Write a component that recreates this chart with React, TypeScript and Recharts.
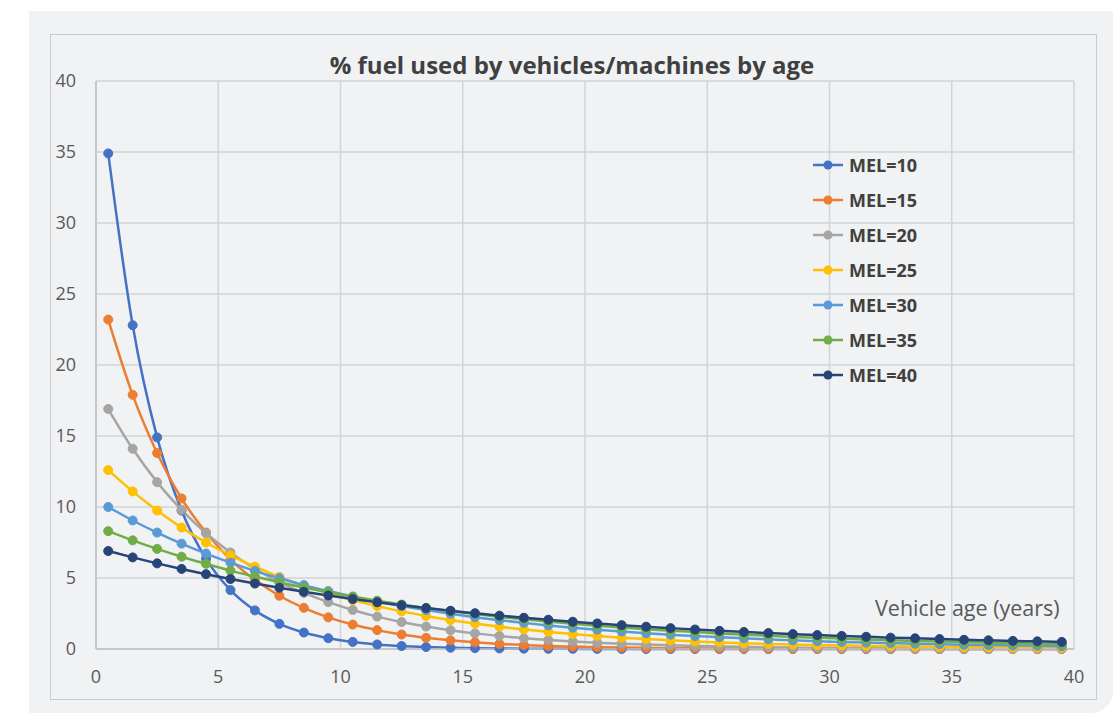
import React from 'react';
import { LineChart, Line, XAxis, YAxis, CartesianGrid } from 'recharts';

const ages = [0.5, 1.5, 2.5, 3.5, 4.5, 5.5, 6.5, 7.5, 8.5, 9.5, 10.5, 11.5, 12.5, 13.5, 14.5, 15.5, 16.5, 17.5, 18.5, 19.5, 20.5, 21.5, 22.5, 23.5, 24.5, 25.5, 26.5, 27.5, 28.5, 29.5, 30.5, 31.5, 32.5, 33.5, 34.5, 35.5, 36.5, 37.5, 38.5, 39.5];

const mel10 = [34.9, 22.8, 14.9, 9.75, 6.35, 4.15, 2.72, 1.77, 1.16, 0.76, 0.5, 0.32, 0.21, 0.14, 0.09, 0.06, 0.04, 0.025, 0.016, 0.01, 0.007, 0.005, 0.003, 0.002, 0.001, 0, 0, 0, 0, 0, 0, 0, 0, 0, 0, 0, 0, 0, 0, 0];
const mel15 = [23.2, 17.9, 13.8, 10.6, 8.2, 6.3, 4.87, 3.75, 2.9, 2.23, 1.72, 1.33, 1.02, 0.79, 0.61, 0.47, 0.36, 0.28, 0.21, 0.17, 0.13, 0.1, 0.08, 0.06, 0.05, 0.03, 0.03, 0.02, 0.02, 0.01, 0.01, 0.01, 0.01, 0, 0, 0, 0, 0, 0, 0];
const mel20 = [16.9, 14.1, 11.75, 9.8, 8.15, 6.8, 5.65, 4.7, 3.95, 3.3, 2.75, 2.28, 1.9, 1.58, 1.32, 1.1, 0.92, 0.76, 0.64, 0.53, 0.44, 0.37, 0.31, 0.26, 0.21, 0.18, 0.15, 0.12, 0.1, 0.09, 0.07, 0.06, 0.05, 0.04, 0.035, 0.03, 0.025, 0.02, 0.017, 0.014];
const mel25 = [12.6, 11.1, 9.75, 8.55, 7.5, 6.6, 5.8, 5.08, 4.46, 3.92, 3.44, 3.02, 2.65, 2.33, 2.04, 1.79, 1.57, 1.38, 1.21, 1.05, 0.92, 0.8, 0.7, 0.61, 0.53, 0.46, 0.4, 0.36, 0.32, 0.28, 0.25, 0.22, 0.2, 0.17, 0.15, 0.13, 0.12, 0.1, 0.09, 0.08];
const mel30 = [10.0, 9.05, 8.2, 7.42, 6.72, 6.08, 5.5, 4.98, 4.5, 4.08, 3.69, 3.34, 3.02, 2.74, 2.48, 2.24, 2.03, 1.84, 1.66, 1.5, 1.36, 1.23, 1.11, 1.01, 0.91, 0.83, 0.75, 0.68, 0.61, 0.55, 0.5, 0.45, 0.41, 0.37, 0.34, 0.3, 0.28, 0.25, 0.23, 0.2];
const mel35 = [8.3, 7.65, 7.05, 6.5, 6.0, 5.52, 5.1, 4.7, 4.33, 4.0, 3.69, 3.4, 3.13, 2.89, 2.66, 2.46, 2.27, 2.09, 1.93, 1.78, 1.64, 1.51, 1.39, 1.29, 1.19, 1.09, 1.01, 0.93, 0.86, 0.79, 0.73, 0.67, 0.62, 0.57, 0.53, 0.49, 0.45, 0.41, 0.38, 0.35];
const mel40 = [6.9, 6.45, 6.03, 5.64, 5.27, 4.93, 4.61, 4.31, 4.03, 3.77, 3.52, 3.29, 3.08, 2.88, 2.69, 2.52, 2.35, 2.2, 2.06, 1.92, 1.8, 1.68, 1.57, 1.47, 1.37, 1.28, 1.2, 1.12, 1.05, 0.98, 0.92, 0.86, 0.8, 0.75, 0.7, 0.65, 0.61, 0.57, 0.54, 0.5];

const seriesNames = ['MEL=10', 'MEL=15', 'MEL=20', 'MEL=25', 'MEL=30', 'MEL=35', 'MEL=40'];
const seriesValues = [mel10, mel15, mel20, mel25, mel30, mel35, mel40];
const seriesColors = ['#4472C4', '#ED7D31', '#A5A5A5', '#FFC000', '#5B9BD5', '#70AD47', '#264478'];

const xTicks = [0, 5, 10, 15, 20, 25, 30, 35, 40];
const yTicks = [0, 5, 10, 15, 20, 25, 30, 35, 40];

const titleText = '% fuel used by vehicles/machines by age';
const xAxisTitle = 'Vehicle age (years)';

const data = ages.map((age, i) => {
  const row: Record<string, number> = { age };
  seriesNames.forEach((name, s) => {
    row[name] = seriesValues[s][i];
  });
  return row;
});

const FONT = 'Open Sans, Liberation Sans, sans-serif';

function LegendBox() {
  return (
    <div style={{ position: 'absolute', left: 811, top: 147, fontFamily: FONT }}>
      {seriesNames.map((name, s) => (
        <div key={name} style={{ display: 'flex', alignItems: 'center', height: 35 }}>
          <svg width={34} height={12} style={{ marginRight: 4 }}>
            <line x1={2} y1={6} x2={32} y2={6} stroke={seriesColors[s]} strokeWidth={2.5} />
            <circle cx={17} cy={6} r={4.5} fill={seriesColors[s]} />
          </svg>
          <span style={{ fontWeight: 700, fontSize: 18, color: '#404040', lineHeight: '20px' }}>{name}</span>
        </div>
      ))}
    </div>
  );
}

export default function App() {
  return (
    <div style={{ position: 'absolute', left: 0, top: 0, width: 1113, height: 713, background: '#ffffff', overflow: 'hidden' }}>
      <div
        style={{
          position: 'absolute',
          left: 29,
          top: 11,
          width: 1084,
          height: 702,
          background: '#f0f2f4',
          borderBottomRightRadius: 22,
        }}
      />
      <div
        style={{
          position: 'absolute',
          left: 50,
          top: 34,
          width: 1047,
          height: 666,
          border: '1px solid #c9cbcd',
          boxSizing: 'border-box',
        }}
      />
      <div
        style={{
          position: 'absolute',
          left: 96,
          width: 978,
          top: 49,
          textAlign: 'center',
          fontFamily: FONT,
          fontWeight: 700,
          fontSize: 24,
          color: '#404040',
          lineHeight: '32px',
          paddingRight: 26,
          boxSizing: 'border-box',
          whiteSpace: 'nowrap',
        }}
      >
        {titleText}
      </div>
      <div style={{ position: 'absolute', left: 0, top: 0 }}>
        <LineChart width={1113} height={713} data={data} margin={{ top: 81, right: 39, bottom: 0, left: 0 }}>
          <CartesianGrid stroke="#d2d4d6" strokeWidth={1.5} />
          <XAxis
            dataKey="age"
            type="number"
            domain={[0, 40]}
            ticks={xTicks}
            height={64}
            axisLine={{ stroke: '#bfc1c3', strokeWidth: 1.5 }}
            tickLine={false}
            tickMargin={15}
            tick={{ fontSize: 18, fill: '#595959', fontFamily: FONT }}
            interval={0}
          />
          <YAxis
            type="number"
            domain={[0, 40]}
            ticks={yTicks}
            width={96}
            axisLine={{ stroke: '#bfc1c3', strokeWidth: 1.5 }}
            tickLine={false}
            tickMargin={14}
            tick={{ fontSize: 18, fill: '#595959', fontFamily: FONT }}
            interval={0}
          />
          {seriesNames.map((name, s) => (
            <Line
              key={name}
              type="monotone"
              dataKey={name}
              stroke={seriesColors[s]}
              strokeWidth={2.5}
              dot={{ r: 4.5, fill: seriesColors[s], stroke: seriesColors[s], strokeWidth: 1 }}
              activeDot={false}
              isAnimationActive={false}
            />
          ))}
        </LineChart>
      </div>
      <LegendBox />
      <div
        style={{
          position: 'absolute',
          left: 875,
          top: 593,
          fontFamily: FONT,
          fontSize: 21.5,
          color: '#595959',
          whiteSpace: 'nowrap',
          lineHeight: '30px',
        }}
      >
        {xAxisTitle}
      </div>
    </div>
  );
}
